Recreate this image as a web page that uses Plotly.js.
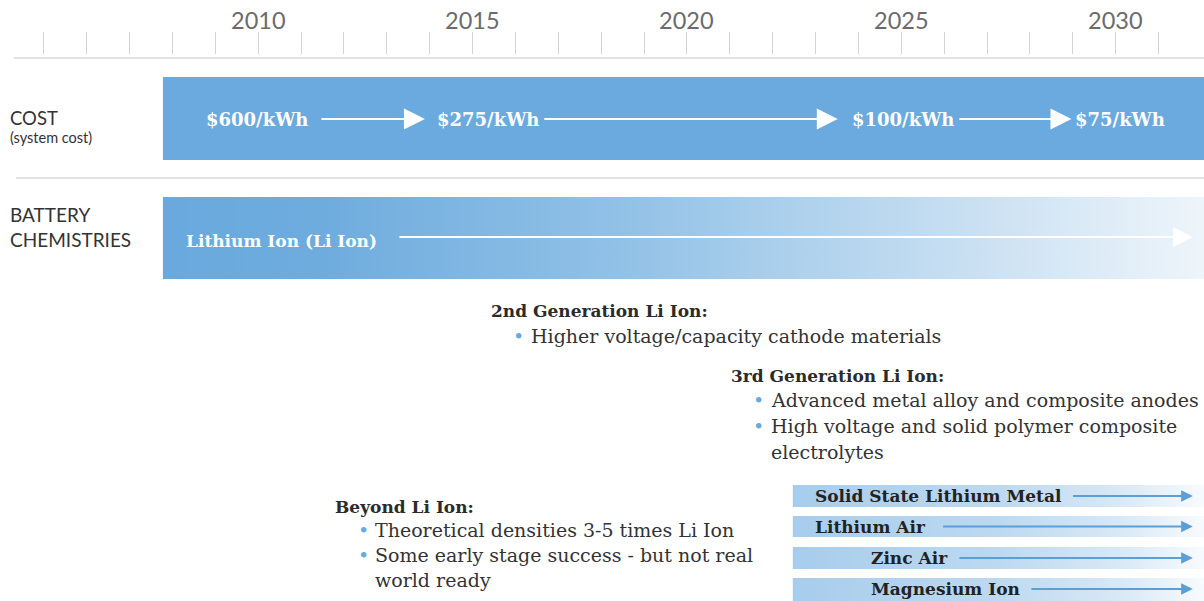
<!DOCTYPE html>
<html>
<head>
<meta charset="utf-8">
<script src="https://cdn.plot.ly/plotly-3.0.1.min.js"></script>
<style>html,body{margin:0;padding:0;background:#fff}#chart{width:1204px;height:601px}</style>
</head>
<body>
<div id="chart"></div>
<script>
// ---------- DATA ----------
const tickYears = [2005,2006,2007,2008,2009,2010,2011,2012,2013,2014,2015,2016,2017,2018,2019,2020,2021,2022,2023,2024,2025,2026,2027,2028,2029,2030,2031];
const labelYears = [2010, 2015, 2020, 2025, 2030];
const tickLabels = ['2010', '2015', '2020', '2025', '2030'];

const rowLabels = ['COST', 'BATTERY<br>CHEMISTRIES'];
const rowSubLabels = ['(system cost)', ''];

const costLabels = ['$600/kWh', '$275/kWh', '$100/kWh', '$75/kWh'];
const costLabelYears = [2008.74, 2014.12, 2023.80, 2029.0];
const costArrowFrom = [2011.44, 2016.64, 2026.32];
const costArrowTo = [2013.89, 2023.52, 2028.97];

const mainBarStart = [2007.78, 2007.78];
const mainBarEnd = [2032.1, 2032.1];

const chemLabel = 'Lithium Ion (Li Ion)';
const chemLabelYear = 2008.28;
const chemArrowFrom = 2013.26;
const chemArrowTo = 2031.8;

const gen2Title = '2nd Generation Li Ion:';
const gen2Bullets = ['Higher voltage/capacity cathode materials'];
const gen2Year = 2015.38;

const gen3Title = '3rd Generation Li Ion:';
const gen3Bullets = ['Advanced metal alloy and composite anodes', 'High voltage and solid polymer composite', 'electrolytes'];
const gen3Year = 2020.98;

const beyondTitle = 'Beyond Li Ion:';
const beyondBullets = ['Theoretical densities 3-5 times Li Ion', 'Some early stage success - but not real', 'world ready'];
const beyondYear = 2011.75;

const futureNames = ['Solid State Lithium Metal', 'Lithium Air', 'Zinc Air', 'Magnesium Ion'];
const futureLabelYears = [2022.95, 2022.95, 2024.24, 2024.24];
const futureArrowFrom = [2028.97, 2025.94, 2026.32, 2028.0];
const futureArrowTo = [2031.8, 2031.8, 2031.8, 2031.8];
const futureBarStart = [2022.47, 2022.47, 2022.47, 2022.47];
const futureBarEnd = [2032.1, 2032.1, 2032.1, 2032.1];

// ---------- LAYOUT CONSTANTS ----------
const BLUE = '#6aaade';
const SERIF = 'DejaVu Serif, serif';
const SANS = 'Lato, sans-serif';
const TOP = 55, H = 601;
const mainRows = [{top: 77, bot: 160, mid: 119}, {top: 197, bot: 279, mid: 238}];
const futureRows = [{top: 485, bot: 507}, {top: 516, bot: 537}, {top: 547, bot: 569}, {top: 578, bot: 601}];
const BULLET_DX = 0.70, TEXT_DX = 0.94;

const traces = [];
function rect(x0, x1, y0, y1, fill) {
  const t = {x: [x0, x1, x1, x0, x0], y: [y0, y0, y1, y1, y0], type: 'scatter', mode: 'lines',
    fill: 'toself', line: {width: 0}, hoverinfo: 'skip', showlegend: false};
  Object.assign(t, fill);
  return t;
}
traces.push(rect(mainBarStart[0], mainBarEnd[0], mainRows[0].top, mainRows[0].bot, {fillcolor: BLUE}));
traces.push(rect(mainBarStart[1], mainBarEnd[1], mainRows[1].top, mainRows[1].bot, {
  fillgradient: {type: 'horizontal', colorscale: [[0, '#69a9dd'], [0.15, '#6eacde'], [0.45, '#93c2e7'], [0.6, '#acd0ec'], [0.8, '#cde2f3'], [1, '#eef5fb']]}
}));
futureNames.forEach((n, i) => {
  traces.push(rect(futureBarStart[i], futureBarEnd[i], futureRows[i].top, futureRows[i].bot, {
    fillgradient: {type: 'horizontal', colorscale: [[0, '#a7cdec'], [0.5, '#bdd9f0'], [0.8, '#d9e9f6'], [1, '#f8fbfe']]}
  }));
});

const shapes = [
  {type: 'line', xref: 'x', yref: 'y', x0: 2004.3, x1: 2032.2, y0: 58, y1: 58, line: {color: '#d9d9d9', width: 1.5}},
  {type: 'line', xref: 'x', yref: 'y', x0: 2004.35, x1: 2032.2, y0: 178, y1: 178, line: {color: '#d9d9d9', width: 1.5}}
];

const ann = [];
const pyPaper = (py) => 1 + (TOP - py) / (H - TOP);
labelYears.forEach((yr, i) => {
  ann.push({xref: 'x', yref: 'paper', x: yr, y: pyPaper(20), xanchor: 'center', yanchor: 'middle', showarrow: false,
    text: tickLabels[i], font: {family: SANS, size: 23.5, color: '#6b6b6b'}});
});
ann.push({xref: 'paper', yref: 'y', x: 0.007, y: 118, xanchor: 'left', yanchor: 'middle', showarrow: false,
  text: rowLabels[0], font: {family: SANS, size: 18.5, color: '#333'}});
ann.push({xref: 'paper', yref: 'y', x: 0.007, y: 137, xanchor: 'left', yanchor: 'middle', showarrow: false,
  text: rowSubLabels[0], font: {family: SANS, size: 14.5, color: '#333'}});
ann.push({xref: 'paper', yref: 'y', x: 0.007, y: 227, xanchor: 'left', yanchor: 'middle', showarrow: false, align: 'left',
  text: rowLabels[1], font: {family: SANS, size: 19, color: '#333'}});

costLabels.forEach((t, i) => {
  ann.push({xref: 'x', yref: 'y', x: costLabelYears[i], y: mainRows[0].mid, xanchor: 'left', yanchor: 'middle', showarrow: false,
    text: '<b>' + t + '</b>', font: {family: SERIF, size: 18, color: '#fff'}});
});
costArrowFrom.forEach((a, i) => {
  ann.push({xref: 'x', yref: 'y', axref: 'x', ayref: 'y', x: costArrowTo[i], y: mainRows[0].mid, ax: a, ay: mainRows[0].mid,
    text: '', showarrow: true, arrowhead: 2, arrowsize: 2.1, arrowwidth: 2, arrowcolor: '#fff', standoff: 0, startstandoff: 0});
});
ann.push({xref: 'x', yref: 'y', x: chemLabelYear, y: 241, xanchor: 'left', yanchor: 'middle', showarrow: false,
  text: '<b>' + chemLabel + '</b>', font: {family: SERIF, size: 17, color: '#fff'}});
ann.push({xref: 'x', yref: 'y', axref: 'x', ayref: 'y', x: chemArrowTo, y: 237, ax: chemArrowFrom, ay: 237,
  text: '', showarrow: true, arrowhead: 2, arrowsize: 1.8, arrowwidth: 2.2, arrowcolor: '#fff'});

function block(title, bullets, year, yTitle, yFirst, step, bulletIdx) {
  ann.push({xref: 'x', yref: 'y', x: year, y: yTitle, xanchor: 'left', yanchor: 'middle', showarrow: false,
    text: '<b>' + title + '</b>', font: {family: SERIF, size: 17, color: '#2b2b2b'}});
  bullets.forEach((b, i) => {
    const y = yFirst + i * step;
    if (bulletIdx.indexOf(i) >= 0) {
      ann.push({xref: 'x', yref: 'y', x: year + BULLET_DX, y: y, xanchor: 'center', yanchor: 'middle', showarrow: false,
        text: '•', font: {family: SERIF, size: 19, color: BLUE}});
    }
    ann.push({xref: 'x', yref: 'y', x: year + TEXT_DX, y: y, xanchor: 'left', yanchor: 'middle', showarrow: false,
      text: b, font: {family: SERIF, size: 19, color: '#333'}});
  });
}
block(gen2Title, gen2Bullets, gen2Year, 311, 336, 26, [0]);
block(gen3Title, gen3Bullets, gen3Year, 376, 400, 26, [0, 1]);
block(beyondTitle, beyondBullets, beyondYear, 507, 530, 25, [0, 1]);

futureNames.forEach((n, i) => {
  const mid = (futureRows[i].top + Math.min(futureRows[i].bot, 600)) / 2;
  ann.push({xref: 'x', yref: 'y', x: futureLabelYears[i], y: mid, xanchor: 'left', yanchor: 'middle', showarrow: false,
    text: '<b>' + n + '</b>', font: {family: SERIF, size: 17, color: '#222'}});
  ann.push({xref: 'x', yref: 'y', axref: 'x', ayref: 'y', x: futureArrowTo[i], y: mid, ax: futureArrowFrom[i], ay: mid,
    text: '', showarrow: true, arrowhead: 2, arrowsize: 1.3, arrowwidth: 1.8, arrowcolor: '#5c9fd6'});
});

const layout = {
  width: 1204, height: 601,
  margin: {l: 0, r: 0, t: TOP, b: 0},
  paper_bgcolor: '#fff', plot_bgcolor: '#fff',
  showlegend: false,
  xaxis: {range: [2003.98, 2032.06], side: 'top', tickmode: 'array', tickvals: tickYears, showticklabels: false,
    ticks: 'outside', ticklen: 22, tickwidth: 1, tickcolor: '#d4d4d4', showgrid: false, zeroline: false, showline: false,
    fixedrange: true},
  yaxis: {range: [H, TOP], visible: false, fixedrange: true},
  shapes: shapes,
  annotations: ann
};
Plotly.newPlot('chart', traces, layout, {staticPlot: true, displayModeBar: false});
</script>
</body>
</html>
